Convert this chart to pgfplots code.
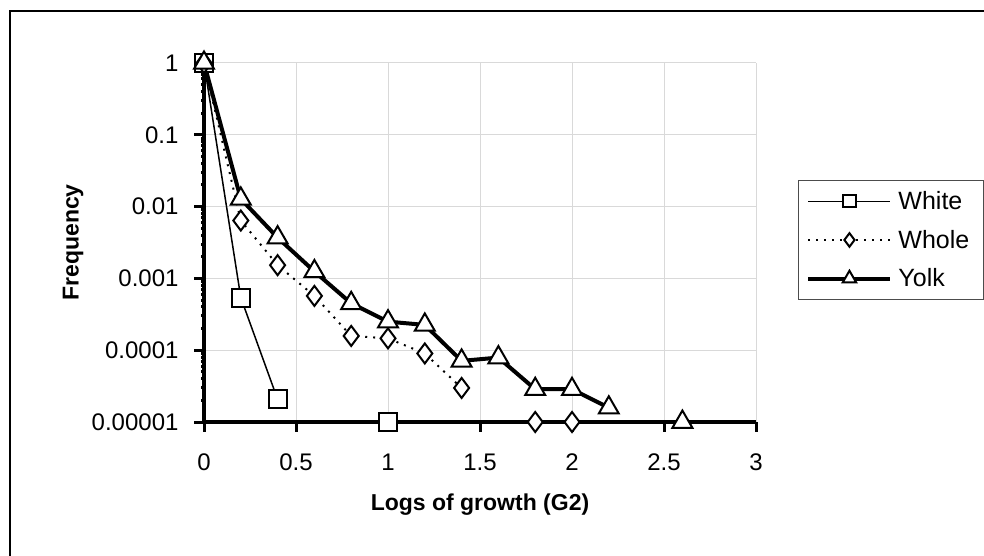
\documentclass[border=0pt]{standalone}
\usepackage{fontspec}
\setmainfont{Liberation Sans}
\usepackage{pgfplots}
\pgfplotsset{compat=1.18}
\begin{document}
\begin{tikzpicture}[x=1pt,y=1pt]
\useasboundingbox (0,0) rectangle (984,556);
\draw[line width=1.5pt] (10,-20) rectangle (1000,545);
\begin{axis}[
  at={(204pt,134pt)}, anchor=south west,
  scale only axis, width=552pt, height=359pt,
  xmin=0, xmax=3, ymode=log, ymin=1e-5, ymax=1,
  axis x line=bottom, axis y line=left,
  axis line style={line width=4pt,-},
  clip=false,
  unbounded coords=jump,
  tick align=outside, major tick length=10pt,
  tick style={black, line width=3pt},
  grid=major, major grid style={line width=1pt, color=black!15},
  xtick={0,0.5,1,1.5,2,2.5,3},
  xticklabels={0,0.5,1,1.5,2,2.5,3},
  ytick={1e-5,1e-4,1e-3,1e-2,0.1,1},
  yticklabels={0.00001,0.0001,0.001,0.01,0.1,1},
  tick label style={font=\fontsize{24}{29}\selectfont},
  xticklabel style={yshift=-18pt},
  yticklabel style={xshift=-12pt},
  xlabel={Logs of growth (G2)}, ylabel={Frequency},
  every axis x label/.style={at={(axis description cs:0.5,-0.231)},anchor=center,font=\fontsize{23}{28}\selectfont\bfseries},
  every axis y label/.style={at={(axis description cs:-0.237,0.5)},anchor=center,rotate=90,font=\fontsize{23}{28}\selectfont\bfseries},
  legend style={at={(axis description cs:1.076,0.674)}, anchor=north west,
     draw=black!70, line width=1pt, font=\fontsize{25}{30}\selectfont,
     row sep=15pt, inner xsep=8pt, inner ysep=9pt,
     nodes={inner xsep=6pt}},
  legend cell align=left,
  legend image code/.code={\draw[mark repeat=2,mark phase=2,#1,every mark/.append style={scale=0.68}] plot coordinates {(0pt,0pt)(41pt,0pt)(82pt,0pt)};},
]
\addplot[black, line width=1.5pt, mark=square*, mark size=9pt, mark options={fill=white, solid, line width=2pt}]
  coordinates {(0,1)(0.2,5.4e-4)(0.4,2.07e-5)(0.6,nan)(1.0,1e-5)};
\addlegendentry{White}
\addplot[black, line width=2pt, dash pattern=on 2pt off 6pt, mark=diamond*, mark size=10pt, mark options={fill=white, solid, line width=2pt}]
  coordinates {(0,1)(0.2,6.4e-3)(0.4,1.53e-3)(0.6,5.7e-4)(0.8,1.58e-4)(1.0,1.46e-4)(1.2,9.0e-5)(1.4,2.98e-5)(1.6,nan)(1.8,1e-5)(2.0,1e-5)};
\addlegendentry{Whole}
\addplot[black, line width=4pt, mark=triangle*, mark size=11.5pt, mark options={fill=white, solid, line width=2pt}]
  coordinates {(0,1)(0.2,0.0128)(0.4,3.7e-3)(0.6,1.25e-3)(0.8,4.5e-4)(1.0,2.5e-4)(1.2,2.25e-4)(1.4,7.1e-5)(1.6,7.9e-5)(1.8,2.86e-5)(2.0,2.86e-5)(2.2,1.58e-5)(2.4,nan)(2.6,1e-5)};
\addlegendentry{Yolk}
\end{axis}
\end{tikzpicture}
\end{document}
